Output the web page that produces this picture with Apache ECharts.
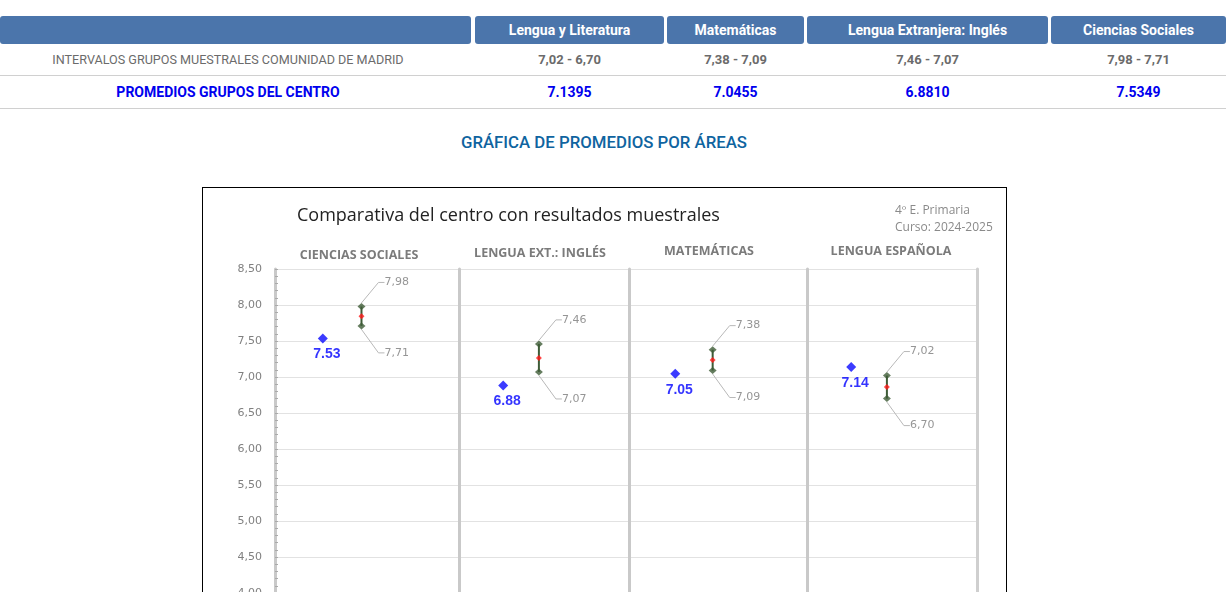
<!DOCTYPE html>
<html>
<head>
<meta charset="utf-8">
<title>Gráfica de promedios por áreas</title>
<script src="https://cdn.jsdelivr.net/npm/echarts@6/dist/echarts.min.js"></script>
<style>
html, body { margin: 0; padding: 0; width: 1232px; height: 592px; overflow: hidden; background: #fff; font-family: Roboto, sans-serif; }
#box { position: absolute; left: 202px; top: 187px; width: 803px; height: 500px; border: 1px solid #000; }
#chart { position: absolute; left: 0; top: 0; width: 1232px; height: 592px; }
.hd { position: absolute; top: 16px; height: 28px; line-height: 28px; background: #4b75ab; color: #fff; font-weight: bold; font-size: 14px; text-align: center; border-radius: 3px; white-space: nowrap; }
.cell { position: absolute; text-align: center; white-space: nowrap; }
.r1 { top: 44px; height: 31px; line-height: 31px; color: #6b6b6b; font-size: 12.6px; }
.r1.v { font-weight: bold; font-size: 13px; }
.r2 { top: 76px; height: 32px; line-height: 32px; color: #0000ee; font-size: 14px; font-weight: bold; }
.rule { position: absolute; left: 0; width: 1226px; height: 1px; background: #d0d0d0; }
#ttl { position: absolute; left: 0; width: 1208px; top: 132px; line-height: 20px; text-align: center; color: #0f64a0; font-size: 16.8px; font-weight: 500; }
</style>
</head>
<body>
<div id="table"></div>
<div id="ttl">GRÁFICA DE PROMEDIOS POR ÁREAS</div>
<div id="box"></div>
<div id="chart"></div>
<script>
// table data (order as in the table header)
var areas = ['Lengua y Literatura', 'Matemáticas', 'Lengua Extranjera: Inglés', 'Ciencias Sociales'];
var intervalHigh = [7.02, 7.38, 7.46, 7.98];
var intervalLow = [6.70, 7.09, 7.07, 7.71];
var intervalMid = [6.86, 7.235, 7.265, 7.845];
var centroAvg = [7.1395, 7.0455, 6.8810, 7.5349];
var rowLabels = ['INTERVALOS GRUPOS MUESTRALES COMUNIDAD DE MADRID', 'PROMEDIOS GRUPOS DEL CENTRO'];

// chart panels (left to right) and which table column each one shows
var panelNames = ['CIENCIAS SOCIALES', 'LENGUA EXT.: INGLÉS', 'MATEMÁTICAS', 'LENGUA ESPAÑOLA'];
var panelOrder = [3, 2, 1, 0];
var yMin = 4, yMax = 8.5, yStep = 0.5;

// layout (px)
var COLS = [[0, 471], [475, 664], [667, 804], [807, 1048], [1051, 1226]];
var PANEL_L = [275, 459, 629, 807];
var PANEL_R = [459, 629, 807, 977];
var HEAD_GAP = [7, 9, 11, 11];
var HEAD_SHIFT = [-8, -4, -9, -1];
var PLOT_TOP = 269, PLOT_H = 324;
var CENTRO_X = 0.26, RANGE_X = 0.47;

function comma(v) { return v.toFixed(2).replace('.', ','); }

function buildTable() {
    var h = '';
    var i, c;
    for (i = 0; i < COLS.length; i++) {
        c = COLS[i];
        h += '<div class="hd" style="left:' + c[0] + 'px;width:' + (c[1] - c[0]) + 'px;">' + (i === 0 ? '' : areas[i - 1]) + '</div>';
    }
    h += '<div class="cell r1" style="left:0;width:456px;">' + rowLabels[0] + '</div>';
    h += '<div class="cell r2" style="left:0;width:456px;">' + rowLabels[1] + '</div>';
    for (i = 0; i < areas.length; i++) {
        c = COLS[i + 1];
        h += '<div class="cell r1 v" style="left:' + c[0] + 'px;width:' + (c[1] - c[0]) + 'px;">' +
             comma(intervalHigh[i]) + ' - ' + comma(intervalLow[i]) + '</div>';
        h += '<div class="cell r2" style="left:' + c[0] + 'px;width:' + (c[1] - c[0]) + 'px;">' +
             centroAvg[i].toFixed(4) + '</div>';
    }
    h += '<div class="rule" style="top:75px;"></div>';
    h += '<div class="rule" style="top:108px;"></div>';
    document.getElementById('table').innerHTML = h;
}

function renderRange(params, api) {
    var a = api.coord([api.value(0), api.value(1)]);
    var b = api.coord([api.value(0), api.value(2)]);
    return {
        type: 'line',
        shape: { x1: a[0], y1: a[1], x2: b[0], y2: b[1] },
        style: { stroke: '#3e5c37', lineWidth: 2 }
    };
}

function buildChart() {
    var chart = echarts.init(document.getElementById('chart'), null, { renderer: 'canvas' });
    var grids = [], xAxes = [], yAxes = [], series = [];
    for (var i = 0; i < panelNames.length; i++) {
        var k = panelOrder[i];
        // outerBoundsMode none: the plot runs past the bottom of the window, as in the screenshot
        grids.push({
            left: PANEL_L[i], top: PLOT_TOP, width: PANEL_R[i] - PANEL_L[i], height: PLOT_H,
            containLabel: false, outerBoundsMode: 'none'
        });
        xAxes.push({
            gridIndex: i, type: 'value', min: 0, max: 1, position: 'top',
            name: panelNames[i], nameLocation: 'middle', nameGap: HEAD_GAP[i],
            nameTextStyle: {
                fontFamily: 'Open Sans', fontWeight: 'bold', fontSize: 12.5, color: '#7b7b7b',
                padding: HEAD_SHIFT[i] < 0 ? [0, -2 * HEAD_SHIFT[i], 0, 0] : [0, 0, 0, 2 * HEAD_SHIFT[i]]
            },
            axisLine: { show: false }, axisTick: { show: false },
            axisLabel: { show: false }, splitLine: { show: false }
        });
        yAxes.push({
            gridIndex: i, type: 'value', min: yMin, max: yMax, interval: yStep,
            axisLine: { show: true, lineStyle: { color: '#c9c9c9', width: 3 } },
            axisTick: { show: i === 0, inside: true, length: 3, lineStyle: { color: '#aaaaaa' } },
            minorTick: { show: i === 0, splitNumber: 5, length: 3, lineStyle: { color: '#aaaaaa' } },
            axisLabel: {
                show: i === 0, margin: 13, color: '#808080',
                fontFamily: 'DejaVu Sans', fontSize: 11,
                formatter: function (v) { return comma(v); }
            },
            splitLine: { show: true, lineStyle: { color: '#e2e2e2', width: 1 } }
        });

        series.push({
            type: 'custom', xAxisIndex: i, yAxisIndex: i, z: 2, silent: true,
            encode: { x: 0, y: [1, 2] },
            data: [[RANGE_X, intervalLow[k], intervalHigh[k]]],
            renderItem: renderRange
        });
        series.push({
            type: 'scatter', xAxisIndex: i, yAxisIndex: i, z: 3, silent: true,
            symbol: 'diamond', symbolSize: [8, 7],
            itemStyle: { color: '#3e5c37' },
            data: [[RANGE_X, intervalHigh[k]], [RANGE_X, intervalLow[k]]],
            label: {
                show: true, position: 'right', distance: 5,
                color: '#7a7a7a', fontFamily: 'DejaVu Sans', fontSize: 11,
                formatter: function (p) { return comma(p.value[1]); }
            },
            labelLayout: function (p) { return { dx: 14, dy: p.dataIndex === 0 ? -24 : 27 }; },
            labelLine: { show: true, length2: 6, lineStyle: { color: '#b8b8b8', width: 1 } }
        });
        series.push({
            type: 'scatter', xAxisIndex: i, yAxisIndex: i, z: 4, silent: true,
            symbol: 'diamond', symbolSize: [6, 6],
            itemStyle: { color: '#ff1a1a' },
            data: [[RANGE_X, intervalMid[k]]]
        });
        series.push({
            type: 'scatter', xAxisIndex: i, yAxisIndex: i, z: 4, silent: true,
            symbol: 'diamond', symbolSize: [10, 10],
            itemStyle: { color: '#0a0aff' },
            data: [[CENTRO_X, centroAvg[k]]],
            label: {
                show: true, position: 'bottom', distance: 4, offset: [4, 0],
                color: '#0000ff', fontFamily: 'Liberation Sans', fontWeight: 'bold', fontSize: 14,
                formatter: function (p) { return p.value[1].toFixed(2); }
            }
        });
    }
    // right border of the last panel
    yAxes.push({
        gridIndex: 3, type: 'value', position: 'right', min: yMin, max: yMax, interval: yStep,
        axisLine: { show: true, lineStyle: { color: '#cfcfcf', width: 3 } },
        axisTick: { show: false }, axisLabel: { show: false }, splitLine: { show: false }
    });

    chart.setOption({
        animation: false,
        title: [
            {
                text: 'Comparativa del centro con resultados muestrales',
                left: 297, top: 207, padding: 0,
                textStyle: { fontFamily: 'Open Sans', fontWeight: 'normal', fontSize: 18, color: '#222' }
            },
            {
                text: '4º E. Primaria\nCurso: 2024-2025',
                left: 895, top: 202, padding: 0,
                textStyle: { fontFamily: 'Open Sans', fontWeight: 'normal', fontSize: 12, lineHeight: 17, color: '#8a8a8a' }
            }
        ],
        grid: grids,
        xAxis: xAxes,
        yAxis: yAxes,
        series: series
    });
    return chart;
}

buildTable();
buildChart();
</script>
</body>
</html>
